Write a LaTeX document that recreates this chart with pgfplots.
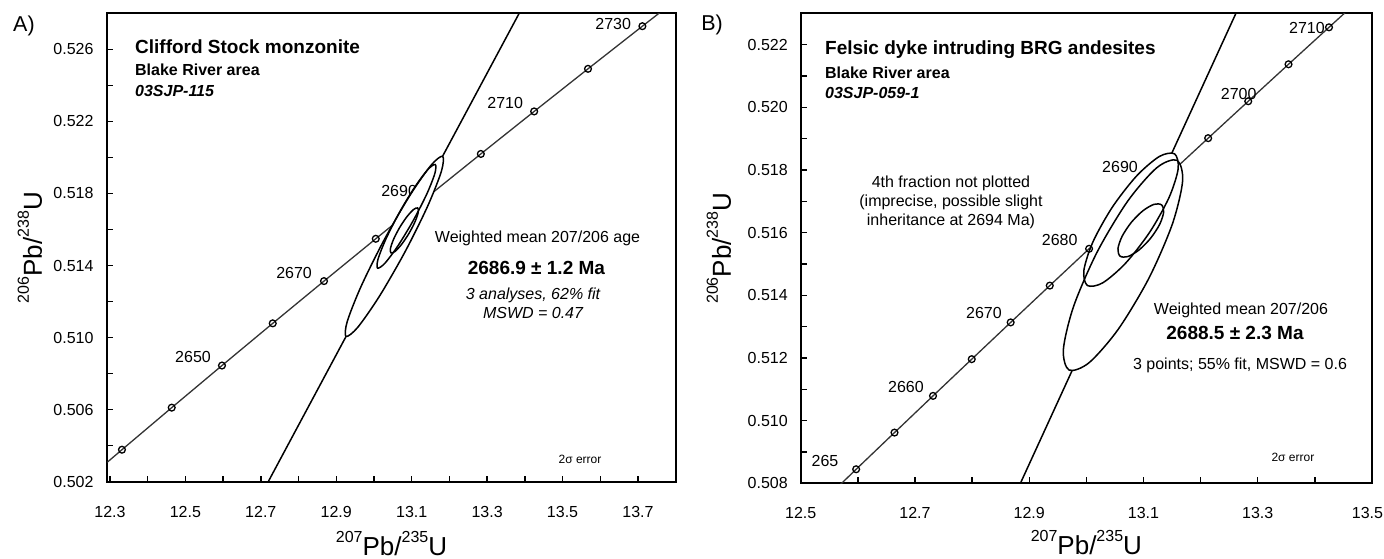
\documentclass[border=0pt]{standalone}
\usepackage{fontspec}
\setmainfont{Liberation Sans}
\usepackage{pgfplots}
\usepackage{pgfplotstable}
\pgfplotsset{compat=1.18}
\newcommand{\fs}[1]{\fontsize{#1}{#1}\selectfont}
\newcommand{\sups}[1]{\raisebox{13pt}{\fs{16}#1}}
\definecolor{conc}{HTML}{333333}

% concordia (206Pb/238U vs 207Pb/235U), 10 Ma steps 2620-2740
\pgfplotstableread{
x y
12.20119 0.501444
12.33184 0.503775
12.46379 0.506110
12.59705 0.508448
12.73161 0.510790
12.86752 0.513135
13.00478 0.515484
13.14338 0.517837
13.28336 0.520193
13.42472 0.522553
13.56749 0.524917
13.71166 0.527284
13.85726 0.529655
}\concA
\pgfplotstableread{
x y
12.33184 0.503775
12.46379 0.506110
12.59705 0.508448
12.73161 0.510790
12.86752 0.513135
13.00478 0.515484
13.28336 0.520193
13.42472 0.522553
13.56749 0.524917
13.71166 0.527284
}\concAm
% concordia 5 Ma steps 2640-2715
\pgfplotstableread{
x y
12.46379 0.506110
12.53026 0.507271
12.59705 0.508448
12.66417 0.509618
12.73161 0.510790
12.79941 0.511962
12.86752 0.513135
12.93597 0.514309
13.00478 0.515484
13.07390 0.516660
13.14338 0.517837
13.21320 0.519015
13.28336 0.520193
13.35386 0.521373
13.42472 0.522553
13.49593 0.523735
}\concB
\pgfplotstableread{
x y
12.59705 0.508448
12.66417 0.509618
12.73161 0.510790
12.79941 0.511962
12.86752 0.513135
12.93597 0.514309
13.00478 0.515484
13.21320 0.519015
13.28336 0.520193
13.35386 0.521373
13.42472 0.522553
}\concBm
% error ellipses, panel A
\pgfplotstableread{
x y
13.18199 0.520065
13.17887 0.519237
13.14229 0.517291
13.08205 0.514748
13.01430 0.512289
12.95719 0.510574
12.92601 0.510061
12.92913 0.510889
12.96571 0.512835
13.02595 0.515378
13.09370 0.517837
13.15081 0.519552
}\ellAa
\pgfplotstableread{
x y
13.16247 0.519606
13.16150 0.519112
13.14034 0.517981
13.10464 0.516514
13.06397 0.515105
13.02924 0.514132
13.00974 0.513855
13.01070 0.514348
13.03186 0.515480
13.06756 0.516946
13.10823 0.518355
13.14296 0.519328
}\ellAb
\pgfplotstableread{
x y
13.11577 0.517196
13.11733 0.516951
13.10902 0.516437
13.09309 0.515791
13.07378 0.515188
13.05629 0.514788
13.04529 0.514698
13.04373 0.514943
13.05204 0.515457
13.06797 0.516103
13.08728 0.516706
13.10477 0.517106
}\ellAc
% error ellipses, panel B
\pgfplotstableread{
x y
13.15448 0.518514
13.16067 0.518034
13.14476 0.517121
13.11100 0.516017
13.06844 0.515020
13.02849 0.514396
13.00184 0.514312
12.99565 0.514792
13.01156 0.515706
13.04532 0.516809
13.08788 0.517807
13.12783 0.518431
}\ellBa
\pgfplotstableread{
x y
13.15857 0.518309
13.16849 0.517649
13.15045 0.516269
13.10930 0.514539
13.05604 0.512922
13.00496 0.511852
12.96973 0.511615
12.95981 0.512275
12.97785 0.513655
13.01900 0.515385
13.07226 0.517002
13.12334 0.518072
}\ellBb
\pgfplotstableread{
x y
13.13166 0.516886
13.13529 0.516651
13.12821 0.516260
13.11231 0.515817
13.09186 0.515442
13.07233 0.515234
13.05896 0.515250
13.05533 0.515485
13.06241 0.515876
13.07831 0.516319
13.09876 0.516694
13.11829 0.516902
}\ellBc

\pgfplotsset{
  concplot/.style={
    scale only axis,
    axis line style={line width=2pt},
    tick align=inside, tick pos=left,
    major tick length=6pt, minor tick length=6pt,
    every tick/.style={black, line width=1.4pt},
    scaled ticks=false,
    /pgf/number format/assume math mode=true,
    tick label style={font=\fs{16}},
    xticklabel style={/pgf/number format/fixed, /pgf/number format/fixed zerofill, /pgf/number format/precision=1},
    yticklabel style={/pgf/number format/fixed, /pgf/number format/fixed zerofill, /pgf/number format/precision=3},
    xlabel={\sups{207}Pb/\sups{235}U},
    ylabel={\sups{206}Pb/\sups{238}U},
    label style={font=\fs{26}},
    clip=true,
  },
  ell/.style={draw=none, fill=white, smooth cycle},
  ello/.style={black, line width=1.5pt, smooth cycle},
  cline/.style={conc, line width=1.3pt, no marks},
  cmark/.style={only marks, mark=o, mark size=3.4pt, mark options={draw=black, fill=white, line width=1.3pt}},
}
\tikzset{lab/.style={font=\fs{16}}}

\begin{document}
\begin{tikzpicture}
\path[use as bounding box] (-107.3pt,-77.3pt) rectangle (1276.7pt,481.7pt);
\node[font=\fs{21.5}] at (-83.3pt,455.7pt) {A)};
\node[font=\fs{21.5}] at (604.7pt,456.7pt) {B)};

\begin{axis}[concplot,
  width=568.4pt, height=468.4pt,
  at={(0pt,0pt)}, anchor=south west,
  xmin=12.293, xmax=13.8, ymin=0.502, ymax=0.528,
  xtick={12.3,12.5,12.7,12.9,13.1,13.3,13.5,13.7},
  minor xtick={12.4,12.6,12.8,13.0,13.2,13.4,13.6},
  ytick={0.502,0.506,0.510,0.514,0.518,0.522,0.526},
  minor ytick={0.504,0.508,0.512,0.516,0.520,0.524},
  yticklabel style={xshift=-10.3pt},
  xticklabel style={yshift=-21pt},
  xlabel style={at={(axis description cs:0.5,-0.1565)}, anchor=base},
  ylabel style={at={(axis description cs:-0.136,0.5)}, anchor=center},
]
\addplot[cline] table {\concA};
\addplot[cmark] table {\concAm};
\node[lab] at (axis cs:13.6344,0.527387) {2730};
\node[lab] at (axis cs:13.3479,0.523034) {2710};
\node[lab] at (axis cs:13.0667,0.518120) {2690};
\node[lab] at (axis cs:12.7882,0.513601) {2670};
\node[lab] at (axis cs:12.5203,0.508915) {2650};
\addplot[black, line width=1.5pt, no marks] coordinates {(12.7069,0.5015) (13.3978,0.5285)};
\addplot[ell] table {\ellAa};
\addplot[ell] table {\ellAb};
\addplot[ell] table {\ellAc};
\addplot[ello] table {\ellAa};
\addplot[ello] table {\ellAb};
\addplot[ello] table {\ellAc};
\node[font=\fs{19}\bfseries, anchor=west] at (rel axis cs:0.0428,0.9287) {Clifford Stock monzonite};
\node[font=\fs{16}\bfseries, anchor=west] at (rel axis cs:0.0428,0.879) {Blake River area};
\node[font=\fs{16}\bfseries\itshape, anchor=west] at (rel axis cs:0.0428,0.834) {03SJP-115};
\node[font=\fs{16}] at (rel axis cs:0.757,0.5188) {Weighted mean 207/206 age};
\node[font=\fs{19}\bfseries] at (rel axis cs:0.755,0.4556) {2686.9 ± 1.2 Ma};
\node[font=\fs{16}\itshape] at (rel axis cs:0.749,0.3986) {3 analyses, 62\% fit};
\node[font=\fs{16}\itshape] at (rel axis cs:0.749,0.3595) {MSWD = 0.47};
\node[font=\fs{12}] at (rel axis cs:0.8316,0.0485) {2σ error};
\end{axis}

\begin{axis}[concplot,
  width=571.3pt, height=470pt,
  at={(693.4pt,-1.6pt)}, anchor=south west,
  xmin=12.5, xmax=13.5, ymin=0.508, ymax=0.523,
  xtick={12.5,12.7,12.9,13.1,13.3,13.5},
  xticklabels={12.5,12.7,12.9,13.1,13.3,\makebox[0pt]{\hspace{-9pt}13.5}},
  minor xtick={12.6,12.8,13.0,13.2,13.4},
  ytick={0.508,0.510,0.512,0.514,0.516,0.518,0.520,0.522},
  minor ytick={0.509,0.511,0.513,0.515,0.517,0.519,0.521},
  yticklabel style={xshift=-9.4pt},
  xticklabel style={yshift=-20pt},
  xlabel style={at={(axis description cs:0.5,-0.152)}, anchor=base},
  ylabel style={at={(axis description cs:-0.143,0.5)}, anchor=center},
]
\addplot[cline] table {\concB};
\addplot[cmark] table {\concBm};
\node[lab] at (axis cs:12.5425,0.508721) {265};
\node[lab] at (axis cs:12.6843,0.511061) {2660};
\node[lab] at (axis cs:12.8208,0.513421) {2670};
\node[lab] at (axis cs:12.9534,0.515759) {2680};
\node[lab] at (axis cs:13.0589,0.518097) {2690};
\node[lab] at (axis cs:13.2667,0.520437) {2700};
\node[lab] at (axis cs:13.3862,0.522542) {2710};
\addplot[black, line width=1.5pt, no marks] coordinates {(12.8720,0.5075) (13.2744,0.5235)};
\addplot[ell] table {\ellBa};
\addplot[ell] table {\ellBb};
\addplot[ell] table {\ellBc};
\addplot[ello] table {\ellBa};
\addplot[ello] table {\ellBb};
\addplot[ello] table {\ellBc};
\node[font=\fs{19}\bfseries, anchor=west] at (rel axis cs:0.0366,0.9234) {Felsic dyke intruding BRG andesites};
\node[font=\fs{16}\bfseries, anchor=west] at (rel axis cs:0.0366,0.8736) {Blake River area};
\node[font=\fs{16}\bfseries\itshape, anchor=west] at (rel axis cs:0.0366,0.831) {03SJP-059-1};
\node[font=\fs{16}] at (rel axis cs:0.263,0.6383) {4th fraction not plotted};
\node[font=\fs{16}] at (rel axis cs:0.263,0.597) {(imprecise, possible slight};
\node[font=\fs{16}] at (rel axis cs:0.263,0.5566) {inheritance at 2694 Ma)};
\node[font=\fs{16}] at (rel axis cs:0.7707,0.3687) {Weighted mean 207/206};
\node[font=\fs{19}\bfseries] at (rel axis cs:0.7602,0.3191) {2688.5 ± 2.3 Ma};
\node[font=\fs{16}] at (rel axis cs:0.769,0.2517) {3 points; 55\% fit, MSWD = 0.6};
\node[font=\fs{12}] at (rel axis cs:0.8616,0.0553) {2σ error};
\end{axis}
\end{tikzpicture}
\end{document}
